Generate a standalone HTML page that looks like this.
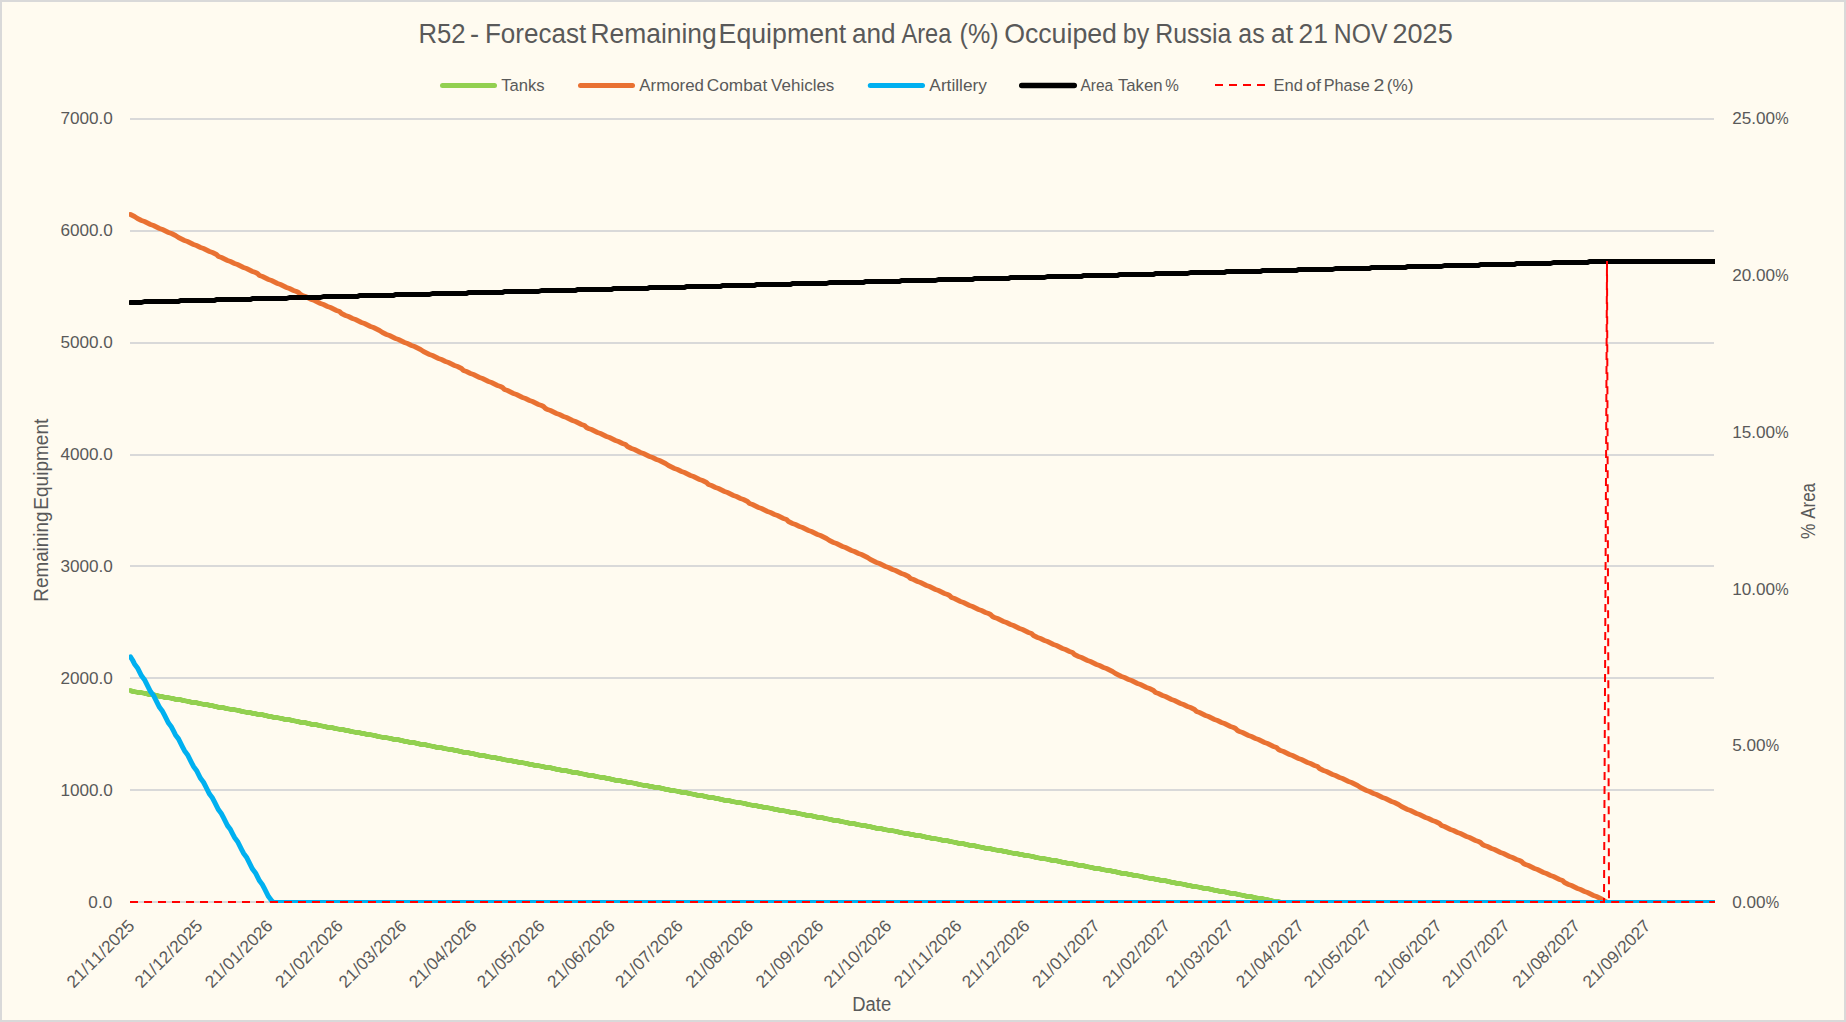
<!DOCTYPE html>
<html lang="en"><head><meta charset="utf-8"><title>R52 - Forecast Remaining Equipment and Area (%) Occuiped by Russia</title>
<style>
html,body{margin:0;padding:0;background:#FFFBF0;}
body{width:1846px;height:1022px;overflow:hidden;position:relative;}
svg{position:absolute;left:0;top:0;display:block;}
text{font-family:"Liberation Sans",sans-serif;fill:#595959;white-space:pre;}
</style></head><body>
<svg width="1846" height="1022" viewBox="0 0 1846 1022">
<defs><clipPath id="plot"><rect x="129" y="110" width="1586" height="793"/></clipPath></defs>
<rect x="0" y="0" width="1846" height="1022" fill="#FFFBF0"/>
<rect x="1" y="1" width="1844" height="1020" fill="none" stroke="#D9D9D9" stroke-width="2"/>
<g fill="#D9D9D9" shape-rendering="crispEdges">
<rect x="130" y="901" width="1584" height="2"/>
<rect x="130" y="789" width="1584" height="2"/>
<rect x="130" y="677" width="1584" height="2"/>
<rect x="130" y="565" width="1584" height="2"/>
<rect x="130" y="454" width="1584" height="2"/>
<rect x="130" y="342" width="1584" height="2"/>
<rect x="130" y="230" width="1584" height="2"/>
<rect x="130" y="118" width="1584" height="2"/>
</g>
<text transform="translate(418.48,42.60) scale(0.9592,1)" font-size="26.8">R52</text>
<text transform="translate(469.88,42.60) scale(1.0155,1)" font-size="26.8">-</text>
<text transform="translate(484.95,42.60) scale(0.9721,1)" font-size="26.8">Forecast</text>
<text transform="translate(590.52,42.60) scale(0.9854,1)" font-size="26.8">Remaining</text>
<text transform="translate(718.60,42.60) scale(0.9969,1)" font-size="26.8">Equipment</text>
<text transform="translate(852.09,42.60) scale(0.9743,1)" font-size="26.8">and</text>
<text transform="translate(901.44,42.60) scale(0.8799,1)" font-size="26.8">Area</text>
<text transform="translate(959.53,42.60) scale(0.9367,1)" font-size="26.8">(%)</text>
<text transform="translate(1004.13,42.60) scale(0.9971,1)" font-size="26.8">Occuiped</text>
<text transform="translate(1122.77,42.60) scale(0.9333,1)" font-size="26.8">by</text>
<text transform="translate(1155.25,42.60) scale(0.9289,1)" font-size="26.8">Russia</text>
<text transform="translate(1238.34,42.60) scale(0.9276,1)" font-size="26.8">as</text>
<text transform="translate(1271.08,42.60) scale(0.9871,1)" font-size="26.8">at</text>
<text transform="translate(1298.58,42.60) scale(0.9877,1)" font-size="26.8">21</text>
<text transform="translate(1333.76,42.60) scale(0.9239,1)" font-size="26.8">NOV</text>
<text transform="translate(1392.55,42.60) scale(1.0096,1)" font-size="26.8">2025</text>
<line x1="442.5" y1="85.5" x2="494.5" y2="85.5" stroke="#92D050" stroke-width="5" stroke-linecap="round"/>
<line x1="580.5" y1="85.5" x2="632.5" y2="85.5" stroke="#E97132" stroke-width="5" stroke-linecap="round"/>
<line x1="870.3" y1="85.5" x2="922.5" y2="85.5" stroke="#00B0F0" stroke-width="5" stroke-linecap="round"/>
<line x1="1021.7" y1="85.5" x2="1074.3" y2="85.5" stroke="#000000" stroke-width="5.4" stroke-linecap="round"/>
<line x1="1215" y1="85" x2="1265" y2="85" stroke="#FF0000" stroke-width="2" stroke-dasharray="8 6"/>
<text transform="translate(501.13,90.80) scale(0.9785,1)" font-size="17">Tanks</text>
<text transform="translate(639.26,90.80) scale(0.9930,1)" font-size="17">Armored</text>
<text transform="translate(706.84,90.80) scale(1.0150,1)" font-size="17">Combat</text>
<text transform="translate(771.12,90.80) scale(0.9993,1)" font-size="17">Vehicles</text>
<text transform="translate(929.36,90.80) scale(1.0165,1)" font-size="17">Artillery</text>
<text transform="translate(1080.46,90.80) scale(0.9099,1)" font-size="17">Area</text>
<text transform="translate(1117.92,90.80) scale(0.9850,1)" font-size="17">Taken</text>
<text transform="translate(1165.36,90.80) scale(0.8994,1)" font-size="17">%</text>
<text transform="translate(1273.54,90.80) scale(0.9729,1)" font-size="17">End</text>
<text transform="translate(1305.93,90.80) scale(1.0614,1)" font-size="17">of</text>
<text transform="translate(1323.66,90.80) scale(0.9551,1)" font-size="17">Phase</text>
<text transform="translate(1373.42,90.80) scale(1.1506,1)" font-size="17">2</text>
<text transform="translate(1386.73,90.80) scale(1.0078,1)" font-size="17">(%)</text>
<text x="112.2" y="908.1" text-anchor="end" font-size="17.15">0.0</text>
<text x="112.9" y="796.1" text-anchor="end" font-size="17.15">1000.0</text>
<text x="112.9" y="684.1" text-anchor="end" font-size="17.15">2000.0</text>
<text x="112.9" y="572.1" text-anchor="end" font-size="17.15">3000.0</text>
<text x="112.9" y="460.1" text-anchor="end" font-size="17.15">4000.0</text>
<text x="112.9" y="348.1" text-anchor="end" font-size="17.15">5000.0</text>
<text x="112.9" y="236.1" text-anchor="end" font-size="17.15">6000.0</text>
<text x="112.9" y="124.1" text-anchor="end" font-size="17.15">7000.0</text>
<text x="1732.2" y="908.1" font-size="17.15">0.00</text>
<text transform="translate(1765.68,908.1) scale(0.88,1)" font-size="17.15">%</text>
<text x="1732.2" y="751.3" font-size="17.15">5.00</text>
<text transform="translate(1765.68,751.3) scale(0.88,1)" font-size="17.15">%</text>
<text x="1732.2" y="594.5" font-size="17.15">10.00</text>
<text transform="translate(1775.22,594.5) scale(0.88,1)" font-size="17.15">%</text>
<text x="1732.2" y="437.7" font-size="17.15">15.00</text>
<text transform="translate(1775.22,437.7) scale(0.88,1)" font-size="17.15">%</text>
<text x="1732.2" y="280.9" font-size="17.15">20.00</text>
<text transform="translate(1775.22,280.9) scale(0.88,1)" font-size="17.15">%</text>
<text x="1732.2" y="124.1" font-size="17.15">25.00</text>
<text transform="translate(1775.22,124.1) scale(0.88,1)" font-size="17.15">%</text>
<text transform="translate(48.10,601.66) rotate(-90) scale(0.9621,1)" font-size="19.6">Remaining</text>
<text transform="translate(48.10,509.67) rotate(-90) scale(0.9715,1)" font-size="19.6">Equipment</text>
<text transform="translate(1815.10,538.91) rotate(-90) scale(0.8862,1)" font-size="19.6">%</text>
<text transform="translate(1815.10,518.74) rotate(-90) scale(0.8643,1)" font-size="19.6">Area</text>
<text transform="translate(852.28,1010.90) scale(0.9382,1)" font-size="19.6">Date</text>
<text transform="translate(135.60,926.9) rotate(-45)" x="-87.4" dx="0 0 0.33 0.33 0 0.33 0.33 0 0 0" font-size="17.2" style="font-kerning:none">21/11/2025</text>
<text transform="translate(203.58,926.9) rotate(-45)" x="-87.4" dx="0 0 0.33 0.33 0 0.33 0.33 0 0 0" font-size="17.2" style="font-kerning:none">21/12/2025</text>
<text transform="translate(273.83,926.9) rotate(-45)" x="-87.4" dx="0 0 0.33 0.33 0 0.33 0.33 0 0 0" font-size="17.2" style="font-kerning:none">21/01/2026</text>
<text transform="translate(344.08,926.9) rotate(-45)" x="-87.4" dx="0 0 0.33 0.33 0 0.33 0.33 0 0 0" font-size="17.2" style="font-kerning:none">21/02/2026</text>
<text transform="translate(407.53,926.9) rotate(-45)" x="-87.4" dx="0 0 0.33 0.33 0 0.33 0.33 0 0 0" font-size="17.2" style="font-kerning:none">21/03/2026</text>
<text transform="translate(477.78,926.9) rotate(-45)" x="-87.4" dx="0 0 0.33 0.33 0 0.33 0.33 0 0 0" font-size="17.2" style="font-kerning:none">21/04/2026</text>
<text transform="translate(545.76,926.9) rotate(-45)" x="-87.4" dx="0 0 0.33 0.33 0 0.33 0.33 0 0 0" font-size="17.2" style="font-kerning:none">21/05/2026</text>
<text transform="translate(616.01,926.9) rotate(-45)" x="-87.4" dx="0 0 0.33 0.33 0 0.33 0.33 0 0 0" font-size="17.2" style="font-kerning:none">21/06/2026</text>
<text transform="translate(683.99,926.9) rotate(-45)" x="-87.4" dx="0 0 0.33 0.33 0 0.33 0.33 0 0 0" font-size="17.2" style="font-kerning:none">21/07/2026</text>
<text transform="translate(754.24,926.9) rotate(-45)" x="-87.4" dx="0 0 0.33 0.33 0 0.33 0.33 0 0 0" font-size="17.2" style="font-kerning:none">21/08/2026</text>
<text transform="translate(824.49,926.9) rotate(-45)" x="-87.4" dx="0 0 0.33 0.33 0 0.33 0.33 0 0 0" font-size="17.2" style="font-kerning:none">21/09/2026</text>
<text transform="translate(892.48,926.9) rotate(-45)" x="-87.4" dx="0 0 0.33 0.33 0 0.33 0.33 0 0 0" font-size="17.2" style="font-kerning:none">21/10/2026</text>
<text transform="translate(962.72,926.9) rotate(-45)" x="-87.4" dx="0 0 0.33 0.33 0 0.33 0.33 0 0 0" font-size="17.2" style="font-kerning:none">21/11/2026</text>
<text transform="translate(1030.71,926.9) rotate(-45)" x="-87.4" dx="0 0 0.33 0.33 0 0.33 0.33 0 0 0" font-size="17.2" style="font-kerning:none">21/12/2026</text>
<text transform="translate(1100.96,926.9) rotate(-45)" x="-87.4" dx="0 0 0.33 0.33 0 0.33 0.33 0 0 0" font-size="17.2" style="font-kerning:none">21/01/2027</text>
<text transform="translate(1171.21,926.9) rotate(-45)" x="-87.4" dx="0 0 0.33 0.33 0 0.33 0.33 0 0 0" font-size="17.2" style="font-kerning:none">21/02/2027</text>
<text transform="translate(1234.66,926.9) rotate(-45)" x="-87.4" dx="0 0 0.33 0.33 0 0.33 0.33 0 0 0" font-size="17.2" style="font-kerning:none">21/03/2027</text>
<text transform="translate(1304.90,926.9) rotate(-45)" x="-87.4" dx="0 0 0.33 0.33 0 0.33 0.33 0 0 0" font-size="17.2" style="font-kerning:none">21/04/2027</text>
<text transform="translate(1372.89,926.9) rotate(-45)" x="-87.4" dx="0 0 0.33 0.33 0 0.33 0.33 0 0 0" font-size="17.2" style="font-kerning:none">21/05/2027</text>
<text transform="translate(1443.14,926.9) rotate(-45)" x="-87.4" dx="0 0 0.33 0.33 0 0.33 0.33 0 0 0" font-size="17.2" style="font-kerning:none">21/06/2027</text>
<text transform="translate(1511.12,926.9) rotate(-45)" x="-87.4" dx="0 0 0.33 0.33 0 0.33 0.33 0 0 0" font-size="17.2" style="font-kerning:none">21/07/2027</text>
<text transform="translate(1581.37,926.9) rotate(-45)" x="-87.4" dx="0 0 0.33 0.33 0 0.33 0.33 0 0 0" font-size="17.2" style="font-kerning:none">21/08/2027</text>
<text transform="translate(1651.62,926.9) rotate(-45)" x="-87.4" dx="0 0 0.33 0.33 0 0.33 0.33 0 0 0" font-size="17.2" style="font-kerning:none">21/09/2027</text>
<g clip-path="url(#plot)">
<polyline points="130.5,690.5 132.5,691.5 134.5,691.5 137.5,692.5 139.5,692.5 141.5,692.5 144.5,693.5 146.5,693.5 148.5,694.5 150.5,694.5 153.5,694.5 155.5,695.5 157.5,695.5 159.5,696.5 162.5,696.5 164.5,697.5 166.5,697.5 168.5,697.5 171.5,698.5 173.5,698.5 175.5,699.5 178.5,699.5 180.5,699.5 182.5,700.5 184.5,700.5 187.5,701.5 189.5,701.5 191.5,702.5 193.5,702.5 196.5,702.5 198.5,703.5 200.5,703.5 203.5,704.5 205.5,704.5 207.5,704.5 209.5,705.5 212.5,705.5 214.5,706.5 216.5,706.5 218.5,707.5 221.5,707.5 223.5,707.5 225.5,708.5 227.5,708.5 230.5,709.5 232.5,709.5 234.5,709.5 237.5,710.5 239.5,710.5 241.5,711.5 243.5,711.5 246.5,712.5 248.5,712.5 250.5,712.5 252.5,713.5 255.5,713.5 257.5,714.5 259.5,714.5 262.5,714.5 264.5,715.5 266.5,715.5 268.5,716.5 271.5,716.5 273.5,717.5 275.5,717.5 277.5,717.5 280.5,718.5 282.5,718.5 284.5,719.5 286.5,719.5 289.5,719.5 291.5,720.5 293.5,720.5 296.5,721.5 298.5,721.5 300.5,722.5 302.5,722.5 305.5,722.5 307.5,723.5 309.5,723.5 311.5,724.5 314.5,724.5 316.5,724.5 318.5,725.5 320.5,725.5 323.5,726.5 325.5,726.5 327.5,727.5 330.5,727.5 332.5,727.5 334.5,728.5 336.5,728.5 339.5,729.5 341.5,729.5 343.5,729.5 345.5,730.5 348.5,730.5 350.5,731.5 352.5,731.5 355.5,732.5 357.5,732.5 359.5,732.5 361.5,733.5 364.5,733.5 366.5,734.5 368.5,734.5 370.5,734.5 373.5,735.5 375.5,735.5 377.5,736.5 379.5,736.5 382.5,737.5 384.5,737.5 386.5,737.5 389.5,738.5 391.5,738.5 393.5,739.5 395.5,739.5 398.5,739.5 400.5,740.5 402.5,740.5 404.5,741.5 407.5,741.5 409.5,742.5 411.5,742.5 414.5,742.5 416.5,743.5 418.5,743.5 420.5,744.5 423.5,744.5 425.5,744.5 427.5,745.5 429.5,745.5 432.5,746.5 434.5,746.5 436.5,747.5 438.5,747.5 441.5,747.5 443.5,748.5 445.5,748.5 448.5,749.5 450.5,749.5 452.5,749.5 454.5,750.5 457.5,750.5 459.5,751.5 461.5,751.5 463.5,752.5 466.5,752.5 468.5,752.5 470.5,753.5 473.5,753.5 475.5,754.5 477.5,754.5 479.5,755.5 482.5,755.5 484.5,755.5 486.5,756.5 488.5,756.5 491.5,757.5 493.5,757.5 495.5,757.5 497.5,758.5 500.5,758.5 502.5,759.5 504.5,759.5 507.5,760.5 509.5,760.5 511.5,760.5 513.5,761.5 516.5,761.5 518.5,762.5 520.5,762.5 522.5,762.5 525.5,763.5 527.5,763.5 529.5,764.5 532.5,764.5 534.5,765.5 536.5,765.5 538.5,765.5 541.5,766.5 543.5,766.5 545.5,767.5 547.5,767.5 550.5,767.5 552.5,768.5 554.5,768.5 556.5,769.5 559.5,769.5 561.5,770.5 563.5,770.5 566.5,770.5 568.5,771.5 570.5,771.5 572.5,772.5 575.5,772.5 577.5,772.5 579.5,773.5 581.5,773.5 584.5,774.5 586.5,774.5 588.5,775.5 591.5,775.5 593.5,775.5 595.5,776.5 597.5,776.5 600.5,777.5 602.5,777.5 604.5,777.5 606.5,778.5 609.5,778.5 611.5,779.5 613.5,779.5 615.5,780.5 618.5,780.5 620.5,780.5 622.5,781.5 625.5,781.5 627.5,782.5 629.5,782.5 631.5,782.5 634.5,783.5 636.5,783.5 638.5,784.5 640.5,784.5 643.5,785.5 645.5,785.5 647.5,785.5 649.5,786.5 652.5,786.5 654.5,787.5 656.5,787.5 659.5,787.5 661.5,788.5 663.5,788.5 665.5,789.5 668.5,789.5 670.5,790.5 672.5,790.5 674.5,790.5 677.5,791.5 679.5,791.5 681.5,792.5 684.5,792.5 686.5,792.5 688.5,793.5 690.5,793.5 693.5,794.5 695.5,794.5 697.5,795.5 699.5,795.5 702.5,795.5 704.5,796.5 706.5,796.5 708.5,797.5 711.5,797.5 713.5,797.5 715.5,798.5 718.5,798.5 720.5,799.5 722.5,799.5 724.5,800.5 727.5,800.5 729.5,800.5 731.5,801.5 733.5,801.5 736.5,802.5 738.5,802.5 740.5,802.5 743.5,803.5 745.5,803.5 747.5,804.5 749.5,804.5 752.5,805.5 754.5,805.5 756.5,805.5 758.5,806.5 761.5,806.5 763.5,807.5 765.5,807.5 767.5,807.5 770.5,808.5 772.5,808.5 774.5,809.5 777.5,809.5 779.5,810.5 781.5,810.5 783.5,810.5 786.5,811.5 788.5,811.5 790.5,812.5 792.5,812.5 795.5,812.5 797.5,813.5 799.5,813.5 802.5,814.5 804.5,814.5 806.5,815.5 808.5,815.5 811.5,815.5 813.5,816.5 815.5,816.5 817.5,817.5 820.5,817.5 822.5,817.5 824.5,818.5 826.5,818.5 829.5,819.5 831.5,819.5 833.5,820.5 836.5,820.5 838.5,820.5 840.5,821.5 842.5,821.5 845.5,822.5 847.5,822.5 849.5,823.5 851.5,823.5 854.5,823.5 856.5,824.5 858.5,824.5 861.5,825.5 863.5,825.5 865.5,825.5 867.5,826.5 870.5,826.5 872.5,827.5 874.5,827.5 876.5,828.5 879.5,828.5 881.5,828.5 883.5,829.5 885.5,829.5 888.5,830.5 890.5,830.5 892.5,830.5 895.5,831.5 897.5,831.5 899.5,832.5 901.5,832.5 904.5,833.5 906.5,833.5 908.5,833.5 910.5,834.5 913.5,834.5 915.5,835.5 917.5,835.5 920.5,835.5 922.5,836.5 924.5,836.5 926.5,837.5 929.5,837.5 931.5,838.5 933.5,838.5 935.5,838.5 938.5,839.5 940.5,839.5 942.5,840.5 944.5,840.5 947.5,840.5 949.5,841.5 951.5,841.5 954.5,842.5 956.5,842.5 958.5,843.5 960.5,843.5 963.5,843.5 965.5,844.5 967.5,844.5 969.5,845.5 972.5,845.5 974.5,845.5 976.5,846.5 978.5,846.5 981.5,847.5 983.5,847.5 985.5,848.5 988.5,848.5 990.5,848.5 992.5,849.5 994.5,849.5 997.5,850.5 999.5,850.5 1001.5,850.5 1003.5,851.5 1006.5,851.5 1008.5,852.5 1010.5,852.5 1013.5,853.5 1015.5,853.5 1017.5,853.5 1019.5,854.5 1022.5,854.5 1024.5,855.5 1026.5,855.5 1028.5,855.5 1031.5,856.5 1033.5,856.5 1035.5,857.5 1037.5,857.5 1040.5,858.5 1042.5,858.5 1044.5,858.5 1047.5,859.5 1049.5,859.5 1051.5,860.5 1053.5,860.5 1056.5,860.5 1058.5,861.5 1060.5,861.5 1062.5,862.5 1065.5,862.5 1067.5,863.5 1069.5,863.5 1072.5,863.5 1074.5,864.5 1076.5,864.5 1078.5,865.5 1081.5,865.5 1083.5,865.5 1085.5,866.5 1087.5,866.5 1090.5,867.5 1092.5,867.5 1094.5,868.5 1096.5,868.5 1099.5,868.5 1101.5,869.5 1103.5,869.5 1106.5,870.5 1108.5,870.5 1110.5,870.5 1112.5,871.5 1115.5,871.5 1117.5,872.5 1119.5,872.5 1121.5,873.5 1124.5,873.5 1126.5,873.5 1128.5,874.5 1131.5,874.5 1133.5,875.5 1135.5,875.5 1137.5,875.5 1140.5,876.5 1142.5,876.5 1144.5,877.5 1146.5,877.5 1149.5,878.5 1151.5,878.5 1153.5,878.5 1155.5,879.5 1158.5,879.5 1160.5,880.5 1162.5,880.5 1165.5,880.5 1167.5,881.5 1169.5,881.5 1171.5,882.5 1174.5,882.5 1176.5,883.5 1178.5,883.5 1180.5,883.5 1183.5,884.5 1185.5,884.5 1187.5,885.5 1190.5,885.5 1192.5,886.5 1194.5,886.5 1196.5,886.5 1199.5,887.5 1201.5,887.5 1203.5,888.5 1205.5,888.5 1208.5,888.5 1210.5,889.5 1212.5,889.5 1214.5,890.5 1217.5,890.5 1219.5,891.5 1221.5,891.5 1224.5,891.5 1226.5,892.5 1228.5,892.5 1230.5,893.5 1233.5,893.5 1235.5,893.5 1237.5,894.5 1239.5,894.5 1242.5,895.5 1244.5,895.5 1246.5,896.5 1248.5,896.5 1251.5,896.5 1253.5,897.5 1255.5,897.5 1258.5,898.5 1260.5,898.5 1262.5,898.5 1264.5,899.5 1267.5,899.5 1269.5,900.5 1271.5,900.5 1273.5,901.5 1276.5,901.5 1278.5,901.5 1280.5,902.5 1283.5,902.5 1285.5,902.5 1287.5,902.5 1289.5,902.5 1292.5,902.5 1294.5,902.5 1296.5,902.5 1298.5,902.5 1301.5,902.5 1303.5,902.5 1305.5,902.5 1307.5,902.5 1310.5,902.5 1312.5,902.5 1314.5,902.5 1317.5,902.5 1319.5,902.5 1321.5,902.5 1323.5,902.5 1326.5,902.5 1328.5,902.5 1330.5,902.5 1332.5,902.5 1335.5,902.5 1337.5,902.5 1339.5,902.5 1342.5,902.5 1344.5,902.5 1346.5,902.5 1348.5,902.5 1351.5,902.5 1353.5,902.5 1355.5,902.5 1357.5,902.5 1360.5,902.5 1362.5,902.5 1364.5,902.5 1366.5,902.5 1369.5,902.5 1371.5,902.5 1373.5,902.5 1376.5,902.5 1378.5,902.5 1380.5,902.5 1382.5,902.5 1385.5,902.5 1387.5,902.5 1389.5,902.5 1391.5,902.5 1394.5,902.5 1396.5,902.5 1398.5,902.5 1401.5,902.5 1403.5,902.5 1405.5,902.5 1407.5,902.5 1410.5,902.5 1412.5,902.5 1414.5,902.5 1416.5,902.5 1419.5,902.5 1421.5,902.5 1423.5,902.5 1425.5,902.5 1428.5,902.5 1430.5,902.5 1432.5,902.5 1435.5,902.5 1437.5,902.5 1439.5,902.5 1441.5,902.5 1444.5,902.5 1446.5,902.5 1448.5,902.5 1450.5,902.5 1453.5,902.5 1455.5,902.5 1457.5,902.5 1460.5,902.5 1462.5,902.5 1464.5,902.5 1466.5,902.5 1469.5,902.5 1471.5,902.5 1473.5,902.5 1475.5,902.5 1478.5,902.5 1480.5,902.5 1482.5,902.5 1484.5,902.5 1487.5,902.5 1489.5,902.5 1491.5,902.5 1494.5,902.5 1496.5,902.5 1498.5,902.5 1500.5,902.5 1503.5,902.5 1505.5,902.5 1507.5,902.5 1509.5,902.5 1512.5,902.5 1514.5,902.5 1516.5,902.5 1519.5,902.5 1521.5,902.5 1523.5,902.5 1525.5,902.5 1528.5,902.5 1530.5,902.5 1532.5,902.5 1534.5,902.5 1537.5,902.5 1539.5,902.5 1541.5,902.5 1543.5,902.5 1546.5,902.5 1548.5,902.5 1550.5,902.5 1553.5,902.5 1555.5,902.5 1557.5,902.5 1559.5,902.5 1562.5,902.5 1564.5,902.5 1566.5,902.5 1568.5,902.5 1571.5,902.5 1573.5,902.5 1575.5,902.5 1577.5,902.5 1580.5,902.5 1582.5,902.5 1584.5,902.5 1587.5,902.5 1589.5,902.5 1591.5,902.5 1593.5,902.5 1596.5,902.5 1598.5,902.5 1600.5,902.5 1602.5,902.5 1605.5,902.5 1607.5,902.5 1609.5,902.5 1612.5,902.5 1614.5,902.5 1616.5,902.5 1618.5,902.5 1621.5,902.5 1623.5,902.5 1625.5,902.5 1627.5,902.5 1630.5,902.5 1632.5,902.5 1634.5,902.5 1636.5,902.5 1639.5,902.5 1641.5,902.5 1643.5,902.5 1646.5,902.5 1648.5,902.5 1650.5,902.5 1652.5,902.5 1655.5,902.5 1657.5,902.5 1659.5,902.5 1661.5,902.5 1664.5,902.5 1666.5,902.5 1668.5,902.5 1671.5,902.5 1673.5,902.5 1675.5,902.5 1677.5,902.5 1680.5,902.5 1682.5,902.5 1684.5,902.5 1686.5,902.5 1689.5,902.5 1691.5,902.5 1693.5,902.5 1695.5,902.5 1698.5,902.5 1700.5,902.5 1702.5,902.5 1705.5,902.5 1707.5,902.5 1709.5,902.5 1711.5,902.5 1714.5,902.5 1722.5,902.5" fill="none" stroke="#92D050" stroke-width="5" stroke-linejoin="round" stroke-linecap="round"/>
<polyline points="130.5,214.5 132.5,215.5 134.5,216.5 137.5,218.5 139.5,219.5 141.5,220.5 144.5,221.5 146.5,222.5 148.5,223.5 150.5,224.5 153.5,225.5 155.5,226.5 157.5,227.5 159.5,228.5 162.5,229.5 164.5,230.5 166.5,231.5 168.5,232.5 171.5,233.5 173.5,234.5 175.5,235.5 178.5,237.5 180.5,238.5 182.5,239.5 184.5,240.5 187.5,241.5 189.5,242.5 191.5,243.5 193.5,244.5 196.5,245.5 198.5,246.5 200.5,247.5 203.5,248.5 205.5,249.5 207.5,250.5 209.5,251.5 212.5,252.5 214.5,253.5 216.5,254.5 218.5,256.5 221.5,257.5 223.5,258.5 225.5,259.5 227.5,260.5 230.5,261.5 232.5,262.5 234.5,263.5 237.5,264.5 239.5,265.5 241.5,266.5 243.5,267.5 246.5,268.5 248.5,269.5 250.5,270.5 252.5,271.5 255.5,272.5 257.5,273.5 259.5,275.5 262.5,276.5 264.5,277.5 266.5,278.5 268.5,279.5 271.5,280.5 273.5,281.5 275.5,282.5 277.5,283.5 280.5,284.5 282.5,285.5 284.5,286.5 286.5,287.5 289.5,288.5 291.5,289.5 293.5,290.5 296.5,291.5 298.5,292.5 300.5,294.5 302.5,295.5 305.5,296.5 307.5,297.5 309.5,298.5 311.5,299.5 314.5,300.5 316.5,301.5 318.5,302.5 320.5,303.5 323.5,304.5 325.5,305.5 327.5,306.5 330.5,307.5 332.5,308.5 334.5,309.5 336.5,310.5 339.5,311.5 341.5,313.5 343.5,314.5 345.5,315.5 348.5,316.5 350.5,317.5 352.5,318.5 355.5,319.5 357.5,320.5 359.5,321.5 361.5,322.5 364.5,323.5 366.5,324.5 368.5,325.5 370.5,326.5 373.5,327.5 375.5,328.5 377.5,329.5 379.5,330.5 382.5,332.5 384.5,333.5 386.5,334.5 389.5,335.5 391.5,336.5 393.5,337.5 395.5,338.5 398.5,339.5 400.5,340.5 402.5,341.5 404.5,342.5 407.5,343.5 409.5,344.5 411.5,345.5 414.5,346.5 416.5,347.5 418.5,348.5 420.5,349.5 423.5,351.5 425.5,352.5 427.5,353.5 429.5,354.5 432.5,355.5 434.5,356.5 436.5,357.5 438.5,358.5 441.5,359.5 443.5,360.5 445.5,361.5 448.5,362.5 450.5,363.5 452.5,364.5 454.5,365.5 457.5,366.5 459.5,367.5 461.5,368.5 463.5,370.5 466.5,371.5 468.5,372.5 470.5,373.5 473.5,374.5 475.5,375.5 477.5,376.5 479.5,377.5 482.5,378.5 484.5,379.5 486.5,380.5 488.5,381.5 491.5,382.5 493.5,383.5 495.5,384.5 497.5,385.5 500.5,386.5 502.5,387.5 504.5,389.5 507.5,390.5 509.5,391.5 511.5,392.5 513.5,393.5 516.5,394.5 518.5,395.5 520.5,396.5 522.5,397.5 525.5,398.5 527.5,399.5 529.5,400.5 532.5,401.5 534.5,402.5 536.5,403.5 538.5,404.5 541.5,405.5 543.5,406.5 545.5,408.5 547.5,409.5 550.5,410.5 552.5,411.5 554.5,412.5 556.5,413.5 559.5,414.5 561.5,415.5 563.5,416.5 566.5,417.5 568.5,418.5 570.5,419.5 572.5,420.5 575.5,421.5 577.5,422.5 579.5,423.5 581.5,424.5 584.5,425.5 586.5,427.5 588.5,428.5 591.5,429.5 593.5,430.5 595.5,431.5 597.5,432.5 600.5,433.5 602.5,434.5 604.5,435.5 606.5,436.5 609.5,437.5 611.5,438.5 613.5,439.5 615.5,440.5 618.5,441.5 620.5,442.5 622.5,443.5 625.5,444.5 627.5,446.5 629.5,447.5 631.5,448.5 634.5,449.5 636.5,450.5 638.5,451.5 640.5,452.5 643.5,453.5 645.5,454.5 647.5,455.5 649.5,456.5 652.5,457.5 654.5,458.5 656.5,459.5 659.5,460.5 661.5,461.5 663.5,462.5 665.5,463.5 668.5,465.5 670.5,466.5 672.5,467.5 674.5,468.5 677.5,469.5 679.5,470.5 681.5,471.5 684.5,472.5 686.5,473.5 688.5,474.5 690.5,475.5 693.5,476.5 695.5,477.5 697.5,478.5 699.5,479.5 702.5,480.5 704.5,481.5 706.5,482.5 708.5,484.5 711.5,485.5 713.5,486.5 715.5,487.5 718.5,488.5 720.5,489.5 722.5,490.5 724.5,491.5 727.5,492.5 729.5,493.5 731.5,494.5 733.5,495.5 736.5,496.5 738.5,497.5 740.5,498.5 743.5,499.5 745.5,500.5 747.5,501.5 749.5,503.5 752.5,504.5 754.5,505.5 756.5,506.5 758.5,507.5 761.5,508.5 763.5,509.5 765.5,510.5 767.5,511.5 770.5,512.5 772.5,513.5 774.5,514.5 777.5,515.5 779.5,516.5 781.5,517.5 783.5,518.5 786.5,519.5 788.5,521.5 790.5,522.5 792.5,523.5 795.5,524.5 797.5,525.5 799.5,526.5 802.5,527.5 804.5,528.5 806.5,529.5 808.5,530.5 811.5,531.5 813.5,532.5 815.5,533.5 817.5,534.5 820.5,535.5 822.5,536.5 824.5,537.5 826.5,538.5 829.5,540.5 831.5,541.5 833.5,542.5 836.5,543.5 838.5,544.5 840.5,545.5 842.5,546.5 845.5,547.5 847.5,548.5 849.5,549.5 851.5,550.5 854.5,551.5 856.5,552.5 858.5,553.5 861.5,554.5 863.5,555.5 865.5,556.5 867.5,557.5 870.5,559.5 872.5,560.5 874.5,561.5 876.5,562.5 879.5,563.5 881.5,564.5 883.5,565.5 885.5,566.5 888.5,567.5 890.5,568.5 892.5,569.5 895.5,570.5 897.5,571.5 899.5,572.5 901.5,573.5 904.5,574.5 906.5,575.5 908.5,576.5 910.5,578.5 913.5,579.5 915.5,580.5 917.5,581.5 920.5,582.5 922.5,583.5 924.5,584.5 926.5,585.5 929.5,586.5 931.5,587.5 933.5,588.5 935.5,589.5 938.5,590.5 940.5,591.5 942.5,592.5 944.5,593.5 947.5,594.5 949.5,595.5 951.5,597.5 954.5,598.5 956.5,599.5 958.5,600.5 960.5,601.5 963.5,602.5 965.5,603.5 967.5,604.5 969.5,605.5 972.5,606.5 974.5,607.5 976.5,608.5 978.5,609.5 981.5,610.5 983.5,611.5 985.5,612.5 988.5,613.5 990.5,614.5 992.5,616.5 994.5,617.5 997.5,618.5 999.5,619.5 1001.5,620.5 1003.5,621.5 1006.5,622.5 1008.5,623.5 1010.5,624.5 1013.5,625.5 1015.5,626.5 1017.5,627.5 1019.5,628.5 1022.5,629.5 1024.5,630.5 1026.5,631.5 1028.5,632.5 1031.5,633.5 1033.5,635.5 1035.5,636.5 1037.5,637.5 1040.5,638.5 1042.5,639.5 1044.5,640.5 1047.5,641.5 1049.5,642.5 1051.5,643.5 1053.5,644.5 1056.5,645.5 1058.5,646.5 1060.5,647.5 1062.5,648.5 1065.5,649.5 1067.5,650.5 1069.5,651.5 1072.5,652.5 1074.5,654.5 1076.5,655.5 1078.5,656.5 1081.5,657.5 1083.5,658.5 1085.5,659.5 1087.5,660.5 1090.5,661.5 1092.5,662.5 1094.5,663.5 1096.5,664.5 1099.5,665.5 1101.5,666.5 1103.5,667.5 1106.5,668.5 1108.5,669.5 1110.5,670.5 1112.5,671.5 1115.5,673.5 1117.5,674.5 1119.5,675.5 1121.5,676.5 1124.5,677.5 1126.5,678.5 1128.5,679.5 1131.5,680.5 1133.5,681.5 1135.5,682.5 1137.5,683.5 1140.5,684.5 1142.5,685.5 1144.5,686.5 1146.5,687.5 1149.5,688.5 1151.5,689.5 1153.5,690.5 1155.5,692.5 1158.5,693.5 1160.5,694.5 1162.5,695.5 1165.5,696.5 1167.5,697.5 1169.5,698.5 1171.5,699.5 1174.5,700.5 1176.5,701.5 1178.5,702.5 1180.5,703.5 1183.5,704.5 1185.5,705.5 1187.5,706.5 1190.5,707.5 1192.5,708.5 1194.5,709.5 1196.5,711.5 1199.5,712.5 1201.5,713.5 1203.5,714.5 1205.5,715.5 1208.5,716.5 1210.5,717.5 1212.5,718.5 1214.5,719.5 1217.5,720.5 1219.5,721.5 1221.5,722.5 1224.5,723.5 1226.5,724.5 1228.5,725.5 1230.5,726.5 1233.5,727.5 1235.5,728.5 1237.5,730.5 1239.5,731.5 1242.5,732.5 1244.5,733.5 1246.5,734.5 1248.5,735.5 1251.5,736.5 1253.5,737.5 1255.5,738.5 1258.5,739.5 1260.5,740.5 1262.5,741.5 1264.5,742.5 1267.5,743.5 1269.5,744.5 1271.5,745.5 1273.5,746.5 1276.5,747.5 1278.5,749.5 1280.5,750.5 1283.5,751.5 1285.5,752.5 1287.5,753.5 1289.5,754.5 1292.5,755.5 1294.5,756.5 1296.5,757.5 1298.5,758.5 1301.5,759.5 1303.5,760.5 1305.5,761.5 1307.5,762.5 1310.5,763.5 1312.5,764.5 1314.5,765.5 1317.5,766.5 1319.5,768.5 1321.5,769.5 1323.5,770.5 1326.5,771.5 1328.5,772.5 1330.5,773.5 1332.5,774.5 1335.5,775.5 1337.5,776.5 1339.5,777.5 1342.5,778.5 1344.5,779.5 1346.5,780.5 1348.5,781.5 1351.5,782.5 1353.5,783.5 1355.5,784.5 1357.5,785.5 1360.5,787.5 1362.5,788.5 1364.5,789.5 1366.5,790.5 1369.5,791.5 1371.5,792.5 1373.5,793.5 1376.5,794.5 1378.5,795.5 1380.5,796.5 1382.5,797.5 1385.5,798.5 1387.5,799.5 1389.5,800.5 1391.5,801.5 1394.5,802.5 1396.5,803.5 1398.5,804.5 1401.5,806.5 1403.5,807.5 1405.5,808.5 1407.5,809.5 1410.5,810.5 1412.5,811.5 1414.5,812.5 1416.5,813.5 1419.5,814.5 1421.5,815.5 1423.5,816.5 1425.5,817.5 1428.5,818.5 1430.5,819.5 1432.5,820.5 1435.5,821.5 1437.5,822.5 1439.5,823.5 1441.5,825.5 1444.5,826.5 1446.5,827.5 1448.5,828.5 1450.5,829.5 1453.5,830.5 1455.5,831.5 1457.5,832.5 1460.5,833.5 1462.5,834.5 1464.5,835.5 1466.5,836.5 1469.5,837.5 1471.5,838.5 1473.5,839.5 1475.5,840.5 1478.5,841.5 1480.5,842.5 1482.5,844.5 1484.5,845.5 1487.5,846.5 1489.5,847.5 1491.5,848.5 1494.5,849.5 1496.5,850.5 1498.5,851.5 1500.5,852.5 1503.5,853.5 1505.5,854.5 1507.5,855.5 1509.5,856.5 1512.5,857.5 1514.5,858.5 1516.5,859.5 1519.5,860.5 1521.5,861.5 1523.5,863.5 1525.5,864.5 1528.5,865.5 1530.5,866.5 1532.5,867.5 1534.5,868.5 1537.5,869.5 1539.5,870.5 1541.5,871.5 1543.5,872.5 1546.5,873.5 1548.5,874.5 1550.5,875.5 1553.5,876.5 1555.5,877.5 1557.5,878.5 1559.5,879.5 1562.5,880.5 1564.5,882.5 1566.5,883.5 1568.5,884.5 1571.5,885.5 1573.5,886.5 1575.5,887.5 1577.5,888.5 1580.5,889.5 1582.5,890.5 1584.5,891.5 1587.5,892.5 1589.5,893.5 1591.5,894.5 1593.5,895.5 1596.5,896.5 1598.5,897.5 1600.5,898.5 1602.5,899.5 1605.5,901.5 1607.5,902.5 1609.5,902.5 1612.5,902.5 1614.5,902.5 1616.5,902.5 1618.5,902.5 1621.5,902.5 1623.5,902.5 1625.5,902.5 1627.5,902.5 1630.5,902.5 1632.5,902.5 1634.5,902.5 1636.5,902.5 1639.5,902.5 1641.5,902.5 1643.5,902.5 1646.5,902.5 1648.5,902.5 1650.5,902.5 1652.5,902.5 1655.5,902.5 1657.5,902.5 1659.5,902.5 1661.5,902.5 1664.5,902.5 1666.5,902.5 1668.5,902.5 1671.5,902.5 1673.5,902.5 1675.5,902.5 1677.5,902.5 1680.5,902.5 1682.5,902.5 1684.5,902.5 1686.5,902.5 1689.5,902.5 1691.5,902.5 1693.5,902.5 1695.5,902.5 1698.5,902.5 1700.5,902.5 1702.5,902.5 1705.5,902.5 1707.5,902.5 1709.5,902.5 1711.5,902.5 1714.5,902.5 1722.5,902.5" fill="none" stroke="#E97132" stroke-width="5" stroke-linejoin="round" stroke-linecap="round"/>
<polyline points="130.5,656.86 132.5,660 134.5,663.95 137.5,667.89 139.5,671.83 141.5,675.78 144.5,679.72 146.5,683.66 148.5,687.61 150.5,691.55 153.5,695.49 155.5,699.44 157.5,703.38 159.5,707.32 162.5,711.27 164.5,715.21 166.5,719.16 168.5,723.1 171.5,727.04 173.5,730.99 175.5,734.93 178.5,738.87 180.5,742.82 182.5,746.76 184.5,750.7 187.5,754.65 189.5,758.59 191.5,762.53 193.5,766.48 196.5,770.42 198.5,774.36 200.5,778.31 203.5,782.25 205.5,786.19 207.5,790.14 209.5,794.08 212.5,798.02 214.5,801.97 216.5,805.91 218.5,809.85 221.5,813.8 223.5,817.74 225.5,821.68 227.5,825.63 230.5,829.57 232.5,833.51 234.5,837.46 237.5,841.4 239.5,845.34 241.5,849.29 243.5,853.23 246.5,857.18 248.5,861.12 250.5,865.06 252.5,869.01 255.5,872.95 257.5,876.89 259.5,880.84 262.5,884.78 264.5,888.72 266.5,892.67 268.5,896.61 271.5,900.55 273.5,902.5 275.5,902.5 277.5,902.5 280.5,902.5 282.5,902.5 284.5,902.5 286.5,902.5 289.5,902.5 291.5,902.5 293.5,902.5 296.5,902.5 298.5,902.5 300.5,902.5 302.5,902.5 305.5,902.5 307.5,902.5 309.5,902.5 311.5,902.5 314.5,902.5 316.5,902.5 318.5,902.5 320.5,902.5 323.5,902.5 325.5,902.5 327.5,902.5 330.5,902.5 332.5,902.5 334.5,902.5 336.5,902.5 339.5,902.5 341.5,902.5 343.5,902.5 345.5,902.5 348.5,902.5 350.5,902.5 352.5,902.5 355.5,902.5 357.5,902.5 359.5,902.5 361.5,902.5 364.5,902.5 366.5,902.5 368.5,902.5 370.5,902.5 373.5,902.5 375.5,902.5 377.5,902.5 379.5,902.5 382.5,902.5 384.5,902.5 386.5,902.5 389.5,902.5 391.5,902.5 393.5,902.5 395.5,902.5 398.5,902.5 400.5,902.5 402.5,902.5 404.5,902.5 407.5,902.5 409.5,902.5 411.5,902.5 414.5,902.5 416.5,902.5 418.5,902.5 420.5,902.5 423.5,902.5 425.5,902.5 427.5,902.5 429.5,902.5 432.5,902.5 434.5,902.5 436.5,902.5 438.5,902.5 441.5,902.5 443.5,902.5 445.5,902.5 448.5,902.5 450.5,902.5 452.5,902.5 454.5,902.5 457.5,902.5 459.5,902.5 461.5,902.5 463.5,902.5 466.5,902.5 468.5,902.5 470.5,902.5 473.5,902.5 475.5,902.5 477.5,902.5 479.5,902.5 482.5,902.5 484.5,902.5 486.5,902.5 488.5,902.5 491.5,902.5 493.5,902.5 495.5,902.5 497.5,902.5 500.5,902.5 502.5,902.5 504.5,902.5 507.5,902.5 509.5,902.5 511.5,902.5 513.5,902.5 516.5,902.5 518.5,902.5 520.5,902.5 522.5,902.5 525.5,902.5 527.5,902.5 529.5,902.5 532.5,902.5 534.5,902.5 536.5,902.5 538.5,902.5 541.5,902.5 543.5,902.5 545.5,902.5 547.5,902.5 550.5,902.5 552.5,902.5 554.5,902.5 556.5,902.5 559.5,902.5 561.5,902.5 563.5,902.5 566.5,902.5 568.5,902.5 570.5,902.5 572.5,902.5 575.5,902.5 577.5,902.5 579.5,902.5 581.5,902.5 584.5,902.5 586.5,902.5 588.5,902.5 591.5,902.5 593.5,902.5 595.5,902.5 597.5,902.5 600.5,902.5 602.5,902.5 604.5,902.5 606.5,902.5 609.5,902.5 611.5,902.5 613.5,902.5 615.5,902.5 618.5,902.5 620.5,902.5 622.5,902.5 625.5,902.5 627.5,902.5 629.5,902.5 631.5,902.5 634.5,902.5 636.5,902.5 638.5,902.5 640.5,902.5 643.5,902.5 645.5,902.5 647.5,902.5 649.5,902.5 652.5,902.5 654.5,902.5 656.5,902.5 659.5,902.5 661.5,902.5 663.5,902.5 665.5,902.5 668.5,902.5 670.5,902.5 672.5,902.5 674.5,902.5 677.5,902.5 679.5,902.5 681.5,902.5 684.5,902.5 686.5,902.5 688.5,902.5 690.5,902.5 693.5,902.5 695.5,902.5 697.5,902.5 699.5,902.5 702.5,902.5 704.5,902.5 706.5,902.5 708.5,902.5 711.5,902.5 713.5,902.5 715.5,902.5 718.5,902.5 720.5,902.5 722.5,902.5 724.5,902.5 727.5,902.5 729.5,902.5 731.5,902.5 733.5,902.5 736.5,902.5 738.5,902.5 740.5,902.5 743.5,902.5 745.5,902.5 747.5,902.5 749.5,902.5 752.5,902.5 754.5,902.5 756.5,902.5 758.5,902.5 761.5,902.5 763.5,902.5 765.5,902.5 767.5,902.5 770.5,902.5 772.5,902.5 774.5,902.5 777.5,902.5 779.5,902.5 781.5,902.5 783.5,902.5 786.5,902.5 788.5,902.5 790.5,902.5 792.5,902.5 795.5,902.5 797.5,902.5 799.5,902.5 802.5,902.5 804.5,902.5 806.5,902.5 808.5,902.5 811.5,902.5 813.5,902.5 815.5,902.5 817.5,902.5 820.5,902.5 822.5,902.5 824.5,902.5 826.5,902.5 829.5,902.5 831.5,902.5 833.5,902.5 836.5,902.5 838.5,902.5 840.5,902.5 842.5,902.5 845.5,902.5 847.5,902.5 849.5,902.5 851.5,902.5 854.5,902.5 856.5,902.5 858.5,902.5 861.5,902.5 863.5,902.5 865.5,902.5 867.5,902.5 870.5,902.5 872.5,902.5 874.5,902.5 876.5,902.5 879.5,902.5 881.5,902.5 883.5,902.5 885.5,902.5 888.5,902.5 890.5,902.5 892.5,902.5 895.5,902.5 897.5,902.5 899.5,902.5 901.5,902.5 904.5,902.5 906.5,902.5 908.5,902.5 910.5,902.5 913.5,902.5 915.5,902.5 917.5,902.5 920.5,902.5 922.5,902.5 924.5,902.5 926.5,902.5 929.5,902.5 931.5,902.5 933.5,902.5 935.5,902.5 938.5,902.5 940.5,902.5 942.5,902.5 944.5,902.5 947.5,902.5 949.5,902.5 951.5,902.5 954.5,902.5 956.5,902.5 958.5,902.5 960.5,902.5 963.5,902.5 965.5,902.5 967.5,902.5 969.5,902.5 972.5,902.5 974.5,902.5 976.5,902.5 978.5,902.5 981.5,902.5 983.5,902.5 985.5,902.5 988.5,902.5 990.5,902.5 992.5,902.5 994.5,902.5 997.5,902.5 999.5,902.5 1001.5,902.5 1003.5,902.5 1006.5,902.5 1008.5,902.5 1010.5,902.5 1013.5,902.5 1015.5,902.5 1017.5,902.5 1019.5,902.5 1022.5,902.5 1024.5,902.5 1026.5,902.5 1028.5,902.5 1031.5,902.5 1033.5,902.5 1035.5,902.5 1037.5,902.5 1040.5,902.5 1042.5,902.5 1044.5,902.5 1047.5,902.5 1049.5,902.5 1051.5,902.5 1053.5,902.5 1056.5,902.5 1058.5,902.5 1060.5,902.5 1062.5,902.5 1065.5,902.5 1067.5,902.5 1069.5,902.5 1072.5,902.5 1074.5,902.5 1076.5,902.5 1078.5,902.5 1081.5,902.5 1083.5,902.5 1085.5,902.5 1087.5,902.5 1090.5,902.5 1092.5,902.5 1094.5,902.5 1096.5,902.5 1099.5,902.5 1101.5,902.5 1103.5,902.5 1106.5,902.5 1108.5,902.5 1110.5,902.5 1112.5,902.5 1115.5,902.5 1117.5,902.5 1119.5,902.5 1121.5,902.5 1124.5,902.5 1126.5,902.5 1128.5,902.5 1131.5,902.5 1133.5,902.5 1135.5,902.5 1137.5,902.5 1140.5,902.5 1142.5,902.5 1144.5,902.5 1146.5,902.5 1149.5,902.5 1151.5,902.5 1153.5,902.5 1155.5,902.5 1158.5,902.5 1160.5,902.5 1162.5,902.5 1165.5,902.5 1167.5,902.5 1169.5,902.5 1171.5,902.5 1174.5,902.5 1176.5,902.5 1178.5,902.5 1180.5,902.5 1183.5,902.5 1185.5,902.5 1187.5,902.5 1190.5,902.5 1192.5,902.5 1194.5,902.5 1196.5,902.5 1199.5,902.5 1201.5,902.5 1203.5,902.5 1205.5,902.5 1208.5,902.5 1210.5,902.5 1212.5,902.5 1214.5,902.5 1217.5,902.5 1219.5,902.5 1221.5,902.5 1224.5,902.5 1226.5,902.5 1228.5,902.5 1230.5,902.5 1233.5,902.5 1235.5,902.5 1237.5,902.5 1239.5,902.5 1242.5,902.5 1244.5,902.5 1246.5,902.5 1248.5,902.5 1251.5,902.5 1253.5,902.5 1255.5,902.5 1258.5,902.5 1260.5,902.5 1262.5,902.5 1264.5,902.5 1267.5,902.5 1269.5,902.5 1271.5,902.5 1273.5,902.5 1276.5,902.5 1278.5,902.5 1280.5,902.5 1283.5,902.5 1285.5,902.5 1287.5,902.5 1289.5,902.5 1292.5,902.5 1294.5,902.5 1296.5,902.5 1298.5,902.5 1301.5,902.5 1303.5,902.5 1305.5,902.5 1307.5,902.5 1310.5,902.5 1312.5,902.5 1314.5,902.5 1317.5,902.5 1319.5,902.5 1321.5,902.5 1323.5,902.5 1326.5,902.5 1328.5,902.5 1330.5,902.5 1332.5,902.5 1335.5,902.5 1337.5,902.5 1339.5,902.5 1342.5,902.5 1344.5,902.5 1346.5,902.5 1348.5,902.5 1351.5,902.5 1353.5,902.5 1355.5,902.5 1357.5,902.5 1360.5,902.5 1362.5,902.5 1364.5,902.5 1366.5,902.5 1369.5,902.5 1371.5,902.5 1373.5,902.5 1376.5,902.5 1378.5,902.5 1380.5,902.5 1382.5,902.5 1385.5,902.5 1387.5,902.5 1389.5,902.5 1391.5,902.5 1394.5,902.5 1396.5,902.5 1398.5,902.5 1401.5,902.5 1403.5,902.5 1405.5,902.5 1407.5,902.5 1410.5,902.5 1412.5,902.5 1414.5,902.5 1416.5,902.5 1419.5,902.5 1421.5,902.5 1423.5,902.5 1425.5,902.5 1428.5,902.5 1430.5,902.5 1432.5,902.5 1435.5,902.5 1437.5,902.5 1439.5,902.5 1441.5,902.5 1444.5,902.5 1446.5,902.5 1448.5,902.5 1450.5,902.5 1453.5,902.5 1455.5,902.5 1457.5,902.5 1460.5,902.5 1462.5,902.5 1464.5,902.5 1466.5,902.5 1469.5,902.5 1471.5,902.5 1473.5,902.5 1475.5,902.5 1478.5,902.5 1480.5,902.5 1482.5,902.5 1484.5,902.5 1487.5,902.5 1489.5,902.5 1491.5,902.5 1494.5,902.5 1496.5,902.5 1498.5,902.5 1500.5,902.5 1503.5,902.5 1505.5,902.5 1507.5,902.5 1509.5,902.5 1512.5,902.5 1514.5,902.5 1516.5,902.5 1519.5,902.5 1521.5,902.5 1523.5,902.5 1525.5,902.5 1528.5,902.5 1530.5,902.5 1532.5,902.5 1534.5,902.5 1537.5,902.5 1539.5,902.5 1541.5,902.5 1543.5,902.5 1546.5,902.5 1548.5,902.5 1550.5,902.5 1553.5,902.5 1555.5,902.5 1557.5,902.5 1559.5,902.5 1562.5,902.5 1564.5,902.5 1566.5,902.5 1568.5,902.5 1571.5,902.5 1573.5,902.5 1575.5,902.5 1577.5,902.5 1580.5,902.5 1582.5,902.5 1584.5,902.5 1587.5,902.5 1589.5,902.5 1591.5,902.5 1593.5,902.5 1596.5,902.5 1598.5,902.5 1600.5,902.5 1602.5,902.5 1605.5,902.5 1607.5,902.5 1609.5,902.5 1612.5,902.5 1614.5,902.5 1616.5,902.5 1618.5,902.5 1621.5,902.5 1623.5,902.5 1625.5,902.5 1627.5,902.5 1630.5,902.5 1632.5,902.5 1634.5,902.5 1636.5,902.5 1639.5,902.5 1641.5,902.5 1643.5,902.5 1646.5,902.5 1648.5,902.5 1650.5,902.5 1652.5,902.5 1655.5,902.5 1657.5,902.5 1659.5,902.5 1661.5,902.5 1664.5,902.5 1666.5,902.5 1668.5,902.5 1671.5,902.5 1673.5,902.5 1675.5,902.5 1677.5,902.5 1680.5,902.5 1682.5,902.5 1684.5,902.5 1686.5,902.5 1689.5,902.5 1691.5,902.5 1693.5,902.5 1695.5,902.5 1698.5,902.5 1700.5,902.5 1702.5,902.5 1705.5,902.5 1707.5,902.5 1709.5,902.5 1711.5,902.5 1714.5,902.5 1722.5,902.5" fill="none" stroke="#00B0F0" stroke-width="5" stroke-linejoin="round" stroke-linecap="round"/>
<polyline points="130.5,302.5 132.5,302.5 134.5,302.5 137.5,302.5 139.5,302.5 141.5,302.5 144.5,301.5 146.5,301.5 148.5,301.5 150.5,301.5 153.5,301.5 155.5,301.5 157.5,301.5 159.5,301.5 162.5,301.5 164.5,301.5 166.5,301.5 168.5,301.5 171.5,301.5 173.5,301.5 175.5,301.5 178.5,301.5 180.5,300.5 182.5,300.5 184.5,300.5 187.5,300.5 189.5,300.5 191.5,300.5 193.5,300.5 196.5,300.5 198.5,300.5 200.5,300.5 203.5,300.5 205.5,300.5 207.5,300.5 209.5,300.5 212.5,300.5 214.5,300.5 216.5,299.5 218.5,299.5 221.5,299.5 223.5,299.5 225.5,299.5 227.5,299.5 230.5,299.5 232.5,299.5 234.5,299.5 237.5,299.5 239.5,299.5 241.5,299.5 243.5,299.5 246.5,299.5 248.5,299.5 250.5,299.5 252.5,298.5 255.5,298.5 257.5,298.5 259.5,298.5 262.5,298.5 264.5,298.5 266.5,298.5 268.5,298.5 271.5,298.5 273.5,298.5 275.5,298.5 277.5,298.5 280.5,298.5 282.5,298.5 284.5,298.5 286.5,298.5 289.5,297.5 291.5,297.5 293.5,297.5 296.5,297.5 298.5,297.5 300.5,297.5 302.5,297.5 305.5,297.5 307.5,297.5 309.5,297.5 311.5,297.5 314.5,297.5 316.5,297.5 318.5,297.5 320.5,297.5 323.5,296.5 325.5,296.5 327.5,296.5 330.5,296.5 332.5,296.5 334.5,296.5 336.5,296.5 339.5,296.5 341.5,296.5 343.5,296.5 345.5,296.5 348.5,296.5 350.5,296.5 352.5,296.5 355.5,296.5 357.5,296.5 359.5,295.5 361.5,295.5 364.5,295.5 366.5,295.5 368.5,295.5 370.5,295.5 373.5,295.5 375.5,295.5 377.5,295.5 379.5,295.5 382.5,295.5 384.5,295.5 386.5,295.5 389.5,295.5 391.5,295.5 393.5,295.5 395.5,294.5 398.5,294.5 400.5,294.5 402.5,294.5 404.5,294.5 407.5,294.5 409.5,294.5 411.5,294.5 414.5,294.5 416.5,294.5 418.5,294.5 420.5,294.5 423.5,294.5 425.5,294.5 427.5,294.5 429.5,294.5 432.5,293.5 434.5,293.5 436.5,293.5 438.5,293.5 441.5,293.5 443.5,293.5 445.5,293.5 448.5,293.5 450.5,293.5 452.5,293.5 454.5,293.5 457.5,293.5 459.5,293.5 461.5,293.5 463.5,293.5 466.5,293.5 468.5,292.5 470.5,292.5 473.5,292.5 475.5,292.5 477.5,292.5 479.5,292.5 482.5,292.5 484.5,292.5 486.5,292.5 488.5,292.5 491.5,292.5 493.5,292.5 495.5,292.5 497.5,292.5 500.5,292.5 502.5,292.5 504.5,291.5 507.5,291.5 509.5,291.5 511.5,291.5 513.5,291.5 516.5,291.5 518.5,291.5 520.5,291.5 522.5,291.5 525.5,291.5 527.5,291.5 529.5,291.5 532.5,291.5 534.5,291.5 536.5,291.5 538.5,291.5 541.5,290.5 543.5,290.5 545.5,290.5 547.5,290.5 550.5,290.5 552.5,290.5 554.5,290.5 556.5,290.5 559.5,290.5 561.5,290.5 563.5,290.5 566.5,290.5 568.5,290.5 570.5,290.5 572.5,290.5 575.5,290.5 577.5,289.5 579.5,289.5 581.5,289.5 584.5,289.5 586.5,289.5 588.5,289.5 591.5,289.5 593.5,289.5 595.5,289.5 597.5,289.5 600.5,289.5 602.5,289.5 604.5,289.5 606.5,289.5 609.5,289.5 611.5,289.5 613.5,288.5 615.5,288.5 618.5,288.5 620.5,288.5 622.5,288.5 625.5,288.5 627.5,288.5 629.5,288.5 631.5,288.5 634.5,288.5 636.5,288.5 638.5,288.5 640.5,288.5 643.5,288.5 645.5,288.5 647.5,288.5 649.5,287.5 652.5,287.5 654.5,287.5 656.5,287.5 659.5,287.5 661.5,287.5 663.5,287.5 665.5,287.5 668.5,287.5 670.5,287.5 672.5,287.5 674.5,287.5 677.5,287.5 679.5,287.5 681.5,287.5 684.5,287.5 686.5,286.5 688.5,286.5 690.5,286.5 693.5,286.5 695.5,286.5 697.5,286.5 699.5,286.5 702.5,286.5 704.5,286.5 706.5,286.5 708.5,286.5 711.5,286.5 713.5,286.5 715.5,286.5 718.5,286.5 720.5,286.5 722.5,285.5 724.5,285.5 727.5,285.5 729.5,285.5 731.5,285.5 733.5,285.5 736.5,285.5 738.5,285.5 740.5,285.5 743.5,285.5 745.5,285.5 747.5,285.5 749.5,285.5 752.5,285.5 754.5,285.5 756.5,284.5 758.5,284.5 761.5,284.5 763.5,284.5 765.5,284.5 767.5,284.5 770.5,284.5 772.5,284.5 774.5,284.5 777.5,284.5 779.5,284.5 781.5,284.5 783.5,284.5 786.5,284.5 788.5,284.5 790.5,284.5 792.5,283.5 795.5,283.5 797.5,283.5 799.5,283.5 802.5,283.5 804.5,283.5 806.5,283.5 808.5,283.5 811.5,283.5 813.5,283.5 815.5,283.5 817.5,283.5 820.5,283.5 822.5,283.5 824.5,283.5 826.5,283.5 829.5,282.5 831.5,282.5 833.5,282.5 836.5,282.5 838.5,282.5 840.5,282.5 842.5,282.5 845.5,282.5 847.5,282.5 849.5,282.5 851.5,282.5 854.5,282.5 856.5,282.5 858.5,282.5 861.5,282.5 863.5,282.5 865.5,281.5 867.5,281.5 870.5,281.5 872.5,281.5 874.5,281.5 876.5,281.5 879.5,281.5 881.5,281.5 883.5,281.5 885.5,281.5 888.5,281.5 890.5,281.5 892.5,281.5 895.5,281.5 897.5,281.5 899.5,281.5 901.5,280.5 904.5,280.5 906.5,280.5 908.5,280.5 910.5,280.5 913.5,280.5 915.5,280.5 917.5,280.5 920.5,280.5 922.5,280.5 924.5,280.5 926.5,280.5 929.5,280.5 931.5,280.5 933.5,280.5 935.5,280.5 938.5,279.5 940.5,279.5 942.5,279.5 944.5,279.5 947.5,279.5 949.5,279.5 951.5,279.5 954.5,279.5 956.5,279.5 958.5,279.5 960.5,279.5 963.5,279.5 965.5,279.5 967.5,279.5 969.5,279.5 972.5,279.5 974.5,278.5 976.5,278.5 978.5,278.5 981.5,278.5 983.5,278.5 985.5,278.5 988.5,278.5 990.5,278.5 992.5,278.5 994.5,278.5 997.5,278.5 999.5,278.5 1001.5,278.5 1003.5,278.5 1006.5,278.5 1008.5,278.5 1010.5,277.5 1013.5,277.5 1015.5,277.5 1017.5,277.5 1019.5,277.5 1022.5,277.5 1024.5,277.5 1026.5,277.5 1028.5,277.5 1031.5,277.5 1033.5,277.5 1035.5,277.5 1037.5,277.5 1040.5,277.5 1042.5,277.5 1044.5,277.5 1047.5,276.5 1049.5,276.5 1051.5,276.5 1053.5,276.5 1056.5,276.5 1058.5,276.5 1060.5,276.5 1062.5,276.5 1065.5,276.5 1067.5,276.5 1069.5,276.5 1072.5,276.5 1074.5,276.5 1076.5,276.5 1078.5,276.5 1081.5,276.5 1083.5,275.5 1085.5,275.5 1087.5,275.5 1090.5,275.5 1092.5,275.5 1094.5,275.5 1096.5,275.5 1099.5,275.5 1101.5,275.5 1103.5,275.5 1106.5,275.5 1108.5,275.5 1110.5,275.5 1112.5,275.5 1115.5,275.5 1117.5,275.5 1119.5,274.5 1121.5,274.5 1124.5,274.5 1126.5,274.5 1128.5,274.5 1131.5,274.5 1133.5,274.5 1135.5,274.5 1137.5,274.5 1140.5,274.5 1142.5,274.5 1144.5,274.5 1146.5,274.5 1149.5,274.5 1151.5,274.5 1153.5,274.5 1155.5,273.5 1158.5,273.5 1160.5,273.5 1162.5,273.5 1165.5,273.5 1167.5,273.5 1169.5,273.5 1171.5,273.5 1174.5,273.5 1176.5,273.5 1178.5,273.5 1180.5,273.5 1183.5,273.5 1185.5,273.5 1187.5,273.5 1190.5,272.5 1192.5,272.5 1194.5,272.5 1196.5,272.5 1199.5,272.5 1201.5,272.5 1203.5,272.5 1205.5,272.5 1208.5,272.5 1210.5,272.5 1212.5,272.5 1214.5,272.5 1217.5,272.5 1219.5,272.5 1221.5,272.5 1224.5,272.5 1226.5,271.5 1228.5,271.5 1230.5,271.5 1233.5,271.5 1235.5,271.5 1237.5,271.5 1239.5,271.5 1242.5,271.5 1244.5,271.5 1246.5,271.5 1248.5,271.5 1251.5,271.5 1253.5,271.5 1255.5,271.5 1258.5,271.5 1260.5,271.5 1262.5,270.5 1264.5,270.5 1267.5,270.5 1269.5,270.5 1271.5,270.5 1273.5,270.5 1276.5,270.5 1278.5,270.5 1280.5,270.5 1283.5,270.5 1285.5,270.5 1287.5,270.5 1289.5,270.5 1292.5,270.5 1294.5,270.5 1296.5,270.5 1298.5,269.5 1301.5,269.5 1303.5,269.5 1305.5,269.5 1307.5,269.5 1310.5,269.5 1312.5,269.5 1314.5,269.5 1317.5,269.5 1319.5,269.5 1321.5,269.5 1323.5,269.5 1326.5,269.5 1328.5,269.5 1330.5,269.5 1332.5,269.5 1335.5,268.5 1337.5,268.5 1339.5,268.5 1342.5,268.5 1344.5,268.5 1346.5,268.5 1348.5,268.5 1351.5,268.5 1353.5,268.5 1355.5,268.5 1357.5,268.5 1360.5,268.5 1362.5,268.5 1364.5,268.5 1366.5,268.5 1369.5,268.5 1371.5,267.5 1373.5,267.5 1376.5,267.5 1378.5,267.5 1380.5,267.5 1382.5,267.5 1385.5,267.5 1387.5,267.5 1389.5,267.5 1391.5,267.5 1394.5,267.5 1396.5,267.5 1398.5,267.5 1401.5,267.5 1403.5,267.5 1405.5,267.5 1407.5,266.5 1410.5,266.5 1412.5,266.5 1414.5,266.5 1416.5,266.5 1419.5,266.5 1421.5,266.5 1423.5,266.5 1425.5,266.5 1428.5,266.5 1430.5,266.5 1432.5,266.5 1435.5,266.5 1437.5,266.5 1439.5,266.5 1441.5,266.5 1444.5,265.5 1446.5,265.5 1448.5,265.5 1450.5,265.5 1453.5,265.5 1455.5,265.5 1457.5,265.5 1460.5,265.5 1462.5,265.5 1464.5,265.5 1466.5,265.5 1469.5,265.5 1471.5,265.5 1473.5,265.5 1475.5,265.5 1478.5,265.5 1480.5,264.5 1482.5,264.5 1484.5,264.5 1487.5,264.5 1489.5,264.5 1491.5,264.5 1494.5,264.5 1496.5,264.5 1498.5,264.5 1500.5,264.5 1503.5,264.5 1505.5,264.5 1507.5,264.5 1509.5,264.5 1512.5,264.5 1514.5,264.5 1516.5,263.5 1519.5,263.5 1521.5,263.5 1523.5,263.5 1525.5,263.5 1528.5,263.5 1530.5,263.5 1532.5,263.5 1534.5,263.5 1537.5,263.5 1539.5,263.5 1541.5,263.5 1543.5,263.5 1546.5,263.5 1548.5,263.5 1550.5,263.5 1553.5,262.5 1555.5,262.5 1557.5,262.5 1559.5,262.5 1562.5,262.5 1564.5,262.5 1566.5,262.5 1568.5,262.5 1571.5,262.5 1573.5,262.5 1575.5,262.5 1577.5,262.5 1580.5,262.5 1582.5,262.5 1584.5,262.5 1587.5,262.5 1589.5,261.5 1591.5,261.5 1593.5,261.5 1596.5,261.5 1598.5,261.5 1600.5,261.5 1602.5,261.5 1605.5,261.5 1607.5,261.5 1609.5,261.5 1612.5,261.5 1614.5,261.5 1616.5,261.5 1618.5,261.5 1621.5,261.5 1623.5,261.5 1625.5,261.5 1627.5,261.5 1630.5,261.5 1632.5,261.5 1634.5,261.5 1636.5,261.5 1639.5,261.5 1641.5,261.5 1643.5,261.5 1646.5,261.5 1648.5,261.5 1650.5,261.5 1652.5,261.5 1655.5,261.5 1657.5,261.5 1659.5,261.5 1661.5,261.5 1664.5,261.5 1666.5,261.5 1668.5,261.5 1671.5,261.5 1673.5,261.5 1675.5,261.5 1677.5,261.5 1680.5,261.5 1682.5,261.5 1684.5,261.5 1686.5,261.5 1689.5,261.5 1691.5,261.5 1693.5,261.5 1695.5,261.5 1698.5,261.5 1700.5,261.5 1702.5,261.5 1705.5,261.5 1707.5,261.5 1709.5,261.5 1711.5,261.5 1714.5,261.5 1722.5,261.5" fill="none" stroke="#000000" stroke-width="5" stroke-linejoin="round" stroke-linecap="round"/>
<polyline points="130,902 1604.00,902 1607.00,261.1 1609.00,902 1715,902" fill="none" stroke="#FF0000" stroke-width="2" stroke-dasharray="8 6" stroke-linejoin="miter"/>
</g>
</svg>
</body></html>
